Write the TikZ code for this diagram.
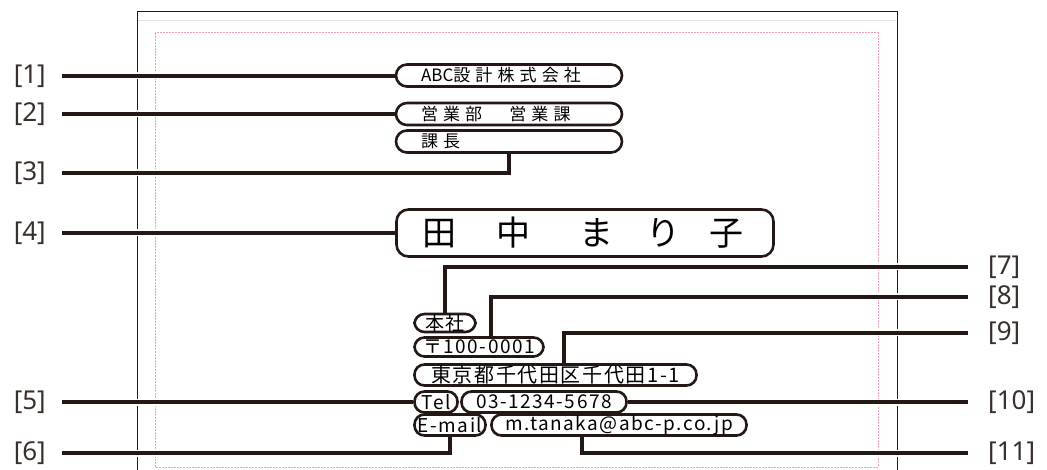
\documentclass[tikz,border=0pt]{standalone}
\usepackage{fontspec}
\setmainfont{Noto Sans}
\newfontfamily\jpfont[LetterSpace=30]{Noto Sans CJK JP}
\newfontfamily\jplow[LetterSpace=8]{Noto Sans CJK JP}
\newfontfamily\jpname{Noto Sans CJK JP}
\usetikzlibrary{positioning, calc, backgrounds}
\definecolor{ink}{HTML}{231815}
\definecolor{trimpink}{HTML}{F29EBB}
\definecolor{bleedgray}{HTML}{E2E2E2}
\pgfdeclarelayer{card}
\pgfsetlayers{card,background,main}

\begin{document}
\begin{tikzpicture}[
    x=1pt, y=-1pt,
    num/.style={font=\fontsize{26}{26}\selectfont, text=ink!90, inner sep=0pt},
    field/.style={draw=ink, line width=2.6pt, fill=white, inner sep=0pt},
    upper/.style={field, rounded corners=11pt, minimum height=22pt,
                  text width=176pt, inner xsep=25pt, align=left,
                  font=\jpfont\fontsize{17}{17}\selectfont},
    lower/.style={field, rounded corners=10pt, minimum height=21pt,
                  font=\jplow\fontsize{19}{19}\selectfont},
    leader/.style={draw=ink, line width=4pt,
                   preaction={draw=white, line width=7pt}},
    leftlead/.style={leader, shorten <=16pt},
    rightlead/.style={leader, shorten >=20pt}
]

\begin{pgfonlayer}{card}
\fill[white, use as bounding box] (0,0) rectangle (1047,470);
\draw[ink, line width=1pt] (137,470) |- (897,12) -- (897,470);
\draw[bleedgray, line width=1pt] (138,21) -- (896,21);
\draw[trimpink, line width=1pt, dash pattern=on 2pt off 1pt]
    (155,33) rectangle (878,467);
\end{pgfonlayer}

\node[upper] (company) at (509,75.5) {{\jpname ABC}設計株式会社};
\node[upper] (dept)    at (509,114)  {営業部　営業課};
\node[upper] (title)   at (509,141.5) {課長};
\node[field, rounded corners=12pt, minimum height=47pt, text width=325pt,
      inner xsep=26pt, align=left, font=\jpname\fontsize{34}{34}\selectfont]
    (name) at (585,233)
    {田\hspace{40pt}中\hspace{49pt}ま\hspace{33pt}り\hspace{29pt}子};

\node[lower, minimum height=18pt, minimum width=61pt] (office)  at (445,323) {本社};
\node[lower, minimum height=19pt, minimum width=129pt] (zip)    at (479,347) {〒100-0001};
\node[lower, minimum width=282pt, font=\jplow\fontsize{20}{20}\selectfont]
    (addr) at (555.5,375) {東京都千代田区千代田1-1};
\node[lower, minimum width=43pt]  (tellab)  at (436,402) {Tel};
\node[lower, minimum width=165pt] (tel)     at (544,402) {03-1234-5678};
\node[lower, minimum width=71pt]  (maillab) at (450,425) {E-mail};
\node[lower, minimum width=255pt] (mail)    at (619,425) {m.tanaka@abc-p.co.jp};

\node[num, anchor=east] (L1) at (46,76)  {[1]};
\node[num, anchor=east] (L2) at (46,114) {[2]};
\node[num, anchor=east] (L3) at (46,173) {[3]};
\node[num, anchor=east] (L4) at (46,233) {[4]};
\node[num, anchor=east] (L5) at (46,402) {[5]};
\node[num, anchor=east] (L6) at (46,453) {[6]};
\node[num, anchor=west] (L7)  at (988,267) {[7]};
\node[num, anchor=west] (L8)  at (988,297) {[8]};
\node[num, anchor=west] (L9)  at (988,333) {[9]};
\node[num, anchor=west] (L10) at (988,402) {[10]};
\node[num, anchor=west] (L11) at (988,453) {[11]};

\begin{scope}[on background layer]
\draw[leftlead] (L1.east) -- (L1.east -| company.west);
\draw[leftlead] (L2.east) -- (L2.east -| dept.west);
\draw[leftlead] (L3.east) -| (title.south);
\draw[leftlead] (L4.east) -- (L4.east -| name.west);
\draw[leftlead] (L5.east) -- (L5.east -| tellab.west);
\draw[leftlead] (L6.east) -| (maillab.south);
\draw[rightlead] (office.north) |- (L7.west);
\draw[rightlead] ([xshift=12pt]zip.north) |- (L8.west);
\draw[rightlead] ([xshift=8pt]addr.north) |- (L9.west);
\draw[rightlead] (L10.west -| tel.east) -- (L10.west);
\draw[rightlead] ([xshift=-37pt]mail.south) |- (L11.west);
\end{scope}

\end{tikzpicture}
\end{document}
